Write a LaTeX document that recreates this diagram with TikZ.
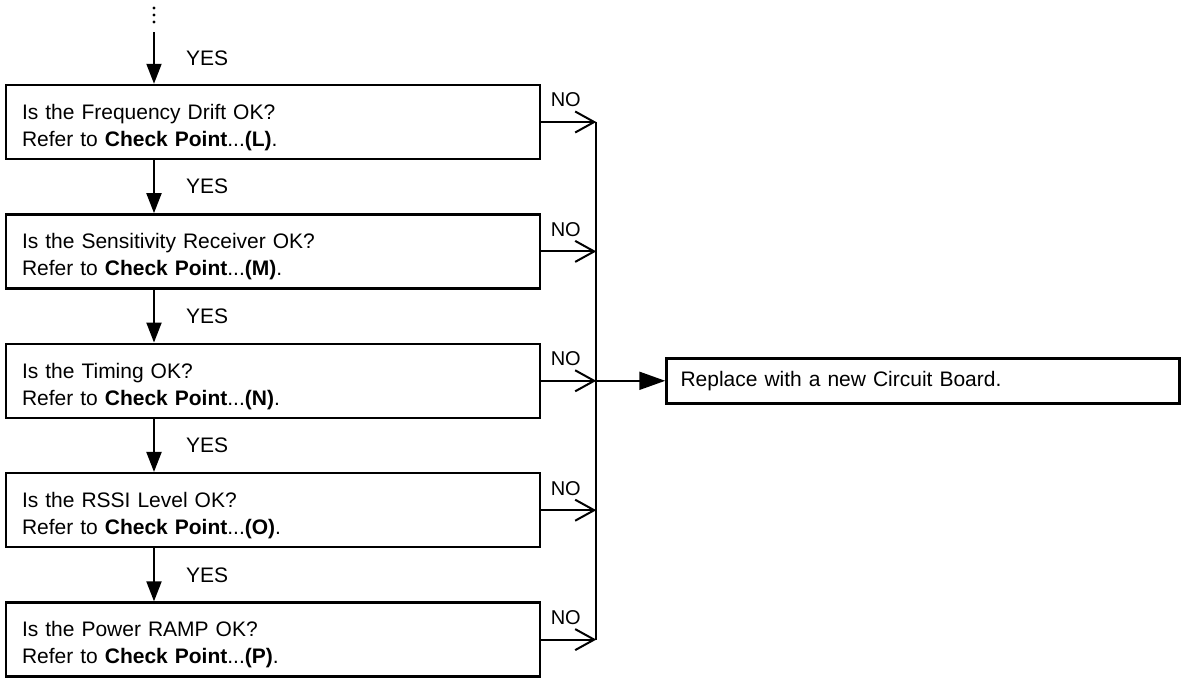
\documentclass[tikz,border=0pt]{standalone}
\usepackage{fontspec}
\setmainfont{Liberation Sans}
\usetikzlibrary{positioning,arrows.meta}

\begin{document}
\begin{tikzpicture}[x=1pt, y=-1pt, node distance=129.4pt,
    block/.style={rectangle, draw, line width=2.5pt, text width=502pt, minimum height=74pt, inner xsep=16pt, align=left, font=\fontsize{21}{27}\selectfont, execute at begin node={\rule{0pt}{26pt}}},
    fixbox/.style={rectangle, draw, line width=2.5pt, text width=485pt, minimum height=45pt, inner xsep=14pt, align=left, font=\fontsize{21}{26}\selectfont},
    yesline/.style={line width=2pt, -{Triangle[length=20pt, width=15pt]}},
    noline/.style={line width=2pt, -{Straight Barb[length=19pt, width=21pt]}},
    yeslabel/.style={anchor=west, xshift=31pt, inner sep=0pt, font=\fontsize{21}{26}\selectfont},
    nolabel/.style={anchor=south, xshift=-3pt, yshift=14pt, inner sep=0pt, font=\fontsize{20}{24}\selectfont}]
    \useasboundingbox (0,0) rectangle (1184,680);

    % continuation dots at the top
    \foreach \y in {8,15,22}
        \fill (154,\y) circle (1.7pt);
    \coordinate (cont) at (154,32);

    \node[block] (q1) at (273,122) {Is the Frequency Drift OK?\\Refer to \textbf{Check Point}...\textbf{(L)}.};
    \node[block, below of=q1] (q2) {Is the Sensitivity Receiver OK?\\Refer to \textbf{Check Point}...\textbf{(M)}.};
    \node[block, below of=q2] (q3) {Is the Timing OK?\\Refer to \textbf{Check Point}...\textbf{(N)}.};
    \node[block, below of=q3] (q4) {Is the RSSI Level OK?\\Refer to \textbf{Check Point}...\textbf{(O)}.};
    \node[block, below of=q4] (q5) {Is the Power RAMP OK?\\Refer to \textbf{Check Point}...\textbf{(P)}.};
    \node[fixbox, right=124pt of q3] (fix) {Replace with a new Circuit Board.};
    \coordinate[right=55pt of q1.east] (bus);

    % YES path down the left side
    \draw[yesline] (cont) -- node[yeslabel] {YES} (cont |- q1.north);
    \draw[yesline] (q1.south -| cont) -- node[yeslabel] {YES} (q2.north -| cont);
    \draw[yesline] (q2.south -| cont) -- node[yeslabel] {YES} (q3.north -| cont);
    \draw[yesline] (q3.south -| cont) -- node[yeslabel] {YES} (q4.north -| cont);
    \draw[yesline] (q4.south -| cont) -- node[yeslabel] {YES} (q5.north -| cont);

    % NO branches into the bus
    \foreach \q in {q1,q2,q3,q4,q5}
        \draw[noline] (\q.east) -- node[nolabel] {NO} (\q.east -| bus);
    \draw[line width=2pt] (bus) -- (q5.east -| bus);
    \draw[line width=2pt, -{Triangle[length=26pt, width=18pt]}] (q3.east -| bus) -- (fix);
\end{tikzpicture}
\end{document}
